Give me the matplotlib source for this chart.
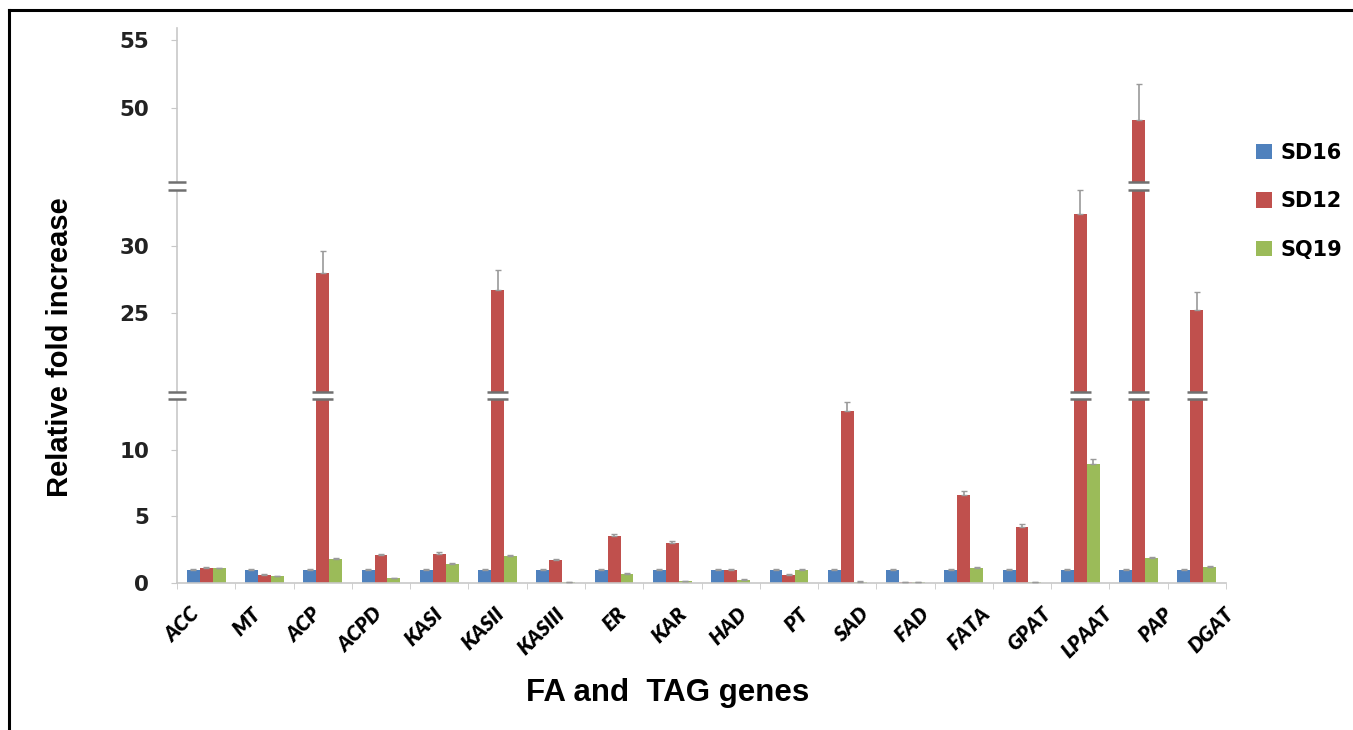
import numpy as np
import matplotlib
matplotlib.use("Agg")
import matplotlib.pyplot as plt
import matplotlib.transforms as mtransforms
from matplotlib.patches import Rectangle
from matplotlib.lines import Line2D

# ---------------- data ----------------
genes = ["ACC", "MT", "ACP", "ACPD", "KASI", "KASII", "KASIII", "ER", "KAR", "HAD",
         "PT", "SAD", "FAD", "FATA", "GPAT", "LPAAT", "PAP", "DGAT"]
series = ["SD16", "SD12", "SQ19"]
sd16 = [1.0, 1.0, 1.0, 1.0, 1.0, 1.0, 1.0, 1.0, 1.0, 1.0, 1.0, 1.0, 1.0, 1.0, 1.0, 1.0, 1.0, 1.0]
sd12 = [1.15, 0.6, 28.0, 2.1, 2.2, 26.7, 1.7, 3.5, 3.0, 1.0, 0.6, 12.9, 0.05, 6.6, 4.2, 32.4, 49.1, 25.2]
sq19 = [1.1, 0.5, 1.8, 0.35, 1.4, 2.0, 0.05, 0.7, 0.15, 0.25, 1.0, 0.1, 0.05, 1.15, 0.05, 8.9, 1.85, 1.2]
sd16_err = [0.05] * 18
sd12_err = [0.06, 0.05, 1.6, 0.08, 0.1, 1.5, 0.08, 0.15, 0.12, 0.05, 0.05, 0.7, 0.02, 0.3, 0.2, 1.8, 2.7, 1.4]
sq19_err = [0.05, 0.04, 0.08, 0.05, 0.08, 0.08, 0.02, 0.05, 0.03, 0.03, 0.06, 0.02, 0.02, 0.07, 0.02, 0.4, 0.1, 0.06]
yticks = [0, 5, 10, 25, 30, 50, 55]

colors = ["#4F81BD", "#C0504D", "#9BBB59"]

# broken-axis mapping: value knots -> display position knots
val_knots = [0.0, 13.8, 19.1, 34.18, 44.56, 55.9]
pos_knots = [0.0, 184.0, 191.0, 393.0, 401.0, 555.0]
breaks = [(13.8, 19.1), (34.18, 44.56)]


def fwd(v):
    return np.interp(np.asarray(v, dtype=float), val_knots, pos_knots)


def inv(p):
    return np.interp(np.asarray(p, dtype=float), pos_knots, val_knots)


W, H = 1353, 730
fig = plt.figure(figsize=(W / 100, H / 100), dpi=100)
ax = fig.add_axes([177 / W, 1 - 583 / H, (1226 - 177) / W, (583 - 28) / H])
ax.set_yscale("function", functions=(fwd, inv))
ax.set_ylim(0, 55.9)
n = len(genes)
ax.set_xlim(-0.5, n - 0.5)

x = np.arange(n)
bw = 0.222
data = [sd16, sd12, sq19]
errs = [sd16_err, sd12_err, sq19_err]
for i, (vals, er, c, name) in enumerate(zip(data, errs, colors, series)):
    xs = x + (i - 1) * bw
    ax.bar(xs, vals, width=bw, color=c, edgecolor="none", label=name, zorder=2)
    ax.errorbar(xs, vals, yerr=[np.zeros(n), er], fmt="none", ecolor="#9a9a9a",
                elinewidth=1.2, capsize=2, capthick=1, zorder=3)

# break marks across bars and on the axis
gc = "#707070"
for i, vals in enumerate(data):
    xs = x + (i - 1) * bw
    for xi, v in zip(xs, vals):
        for lo, hi in breaks:
            if v > hi:
                ax.add_patch(Rectangle((xi - bw * 0.8, lo), bw * 1.6, hi - lo,
                                       facecolor="white", edgecolor="none", zorder=4))
                for yv in (lo, hi):
                    ax.plot([xi - bw * 0.8, xi + bw * 0.8], [yv, yv], color=gc, lw=1.8,
                            zorder=5, solid_capstyle="butt")
for lo, hi in breaks:
    ax.add_patch(Rectangle((-0.5 - 0.15, lo), 0.3, hi - lo, facecolor="white",
                           edgecolor="none", zorder=4, clip_on=False))
    for yv in (lo, hi):
        ax.plot([-0.5 - 0.15, -0.5 + 0.15], [yv, yv], color=gc, lw=1.8, zorder=5,
                clip_on=False, solid_capstyle="butt")

# spines / ticks
for s in ["top", "right"]:
    ax.spines[s].set_visible(False)
for s in ["left", "bottom"]:
    ax.spines[s].set_color("#C8C8C8")
    ax.spines[s].set_linewidth(1.2)
ax.set_yticks(yticks)
ax.set_yticklabels([str(t) for t in yticks], fontfamily="DejaVu Sans", fontweight="bold",
                   fontsize=15.5, color="#222222")
ax.tick_params(axis="y", length=4, color="#C8C8C8", pad=16)
ax.set_xticks(np.arange(n + 1) - 0.5, minor=True)
ax.set_xticks(x)
ax.set_xticklabels([])
ax.tick_params(axis="x", which="major", length=0)
ax.tick_params(axis="x", which="minor", length=4, color="#C8C8C8")

# category labels (Excel spreads them slightly wider than the bar groups)
base = mtransforms.blended_transform_factory(ax.transData, ax.transAxes)
for i, g in enumerate(genes):
    off = mtransforms.ScaledTranslation((-16 + 2.5 * i) / 100, -21 / 100, fig.dpi_scale_trans)
    ax.text(x[i], 0, g, transform=base + off, rotation=45, ha="right", va="top",
            rotation_mode="anchor", fontfamily="Lato", fontweight="heavy",
            fontstyle="italic", fontsize=15, clip_on=False)

fig.text(60 / W, 1 - 347 / H, "Relative fold increase", rotation=90, ha="center", va="center",
         fontfamily="Liberation Sans", fontweight="bold", fontsize=21)
fig.text(668 / W, 1 - 693 / H, "FA and  TAG genes", ha="center", va="center",
         fontfamily="Liberation Sans", fontweight="bold", fontsize=22.5)

leg = ax.legend(loc="upper left", bbox_to_anchor=(1256 / W, 1 - 143 / H),
                bbox_transform=fig.transFigure, frameon=False, handlelength=0.75,
                handleheight=0.75, handletextpad=0.45, labelspacing=1.36,
                borderpad=0, borderaxespad=0,
                prop={"family": "DejaVu Sans", "weight": "bold", "size": 15})

# outer border (left and top)
fig.add_artist(Line2D([9 / W, 9 / W], [0, 1 - 10 / H], color="black", lw=2.2,
                      transform=fig.transFigure))
fig.add_artist(Line2D([9 / W, 1], [1 - 10 / H, 1 - 10 / H], color="black", lw=2.2,
                      transform=fig.transFigure))

fig.savefig("out.png", dpi=100)
